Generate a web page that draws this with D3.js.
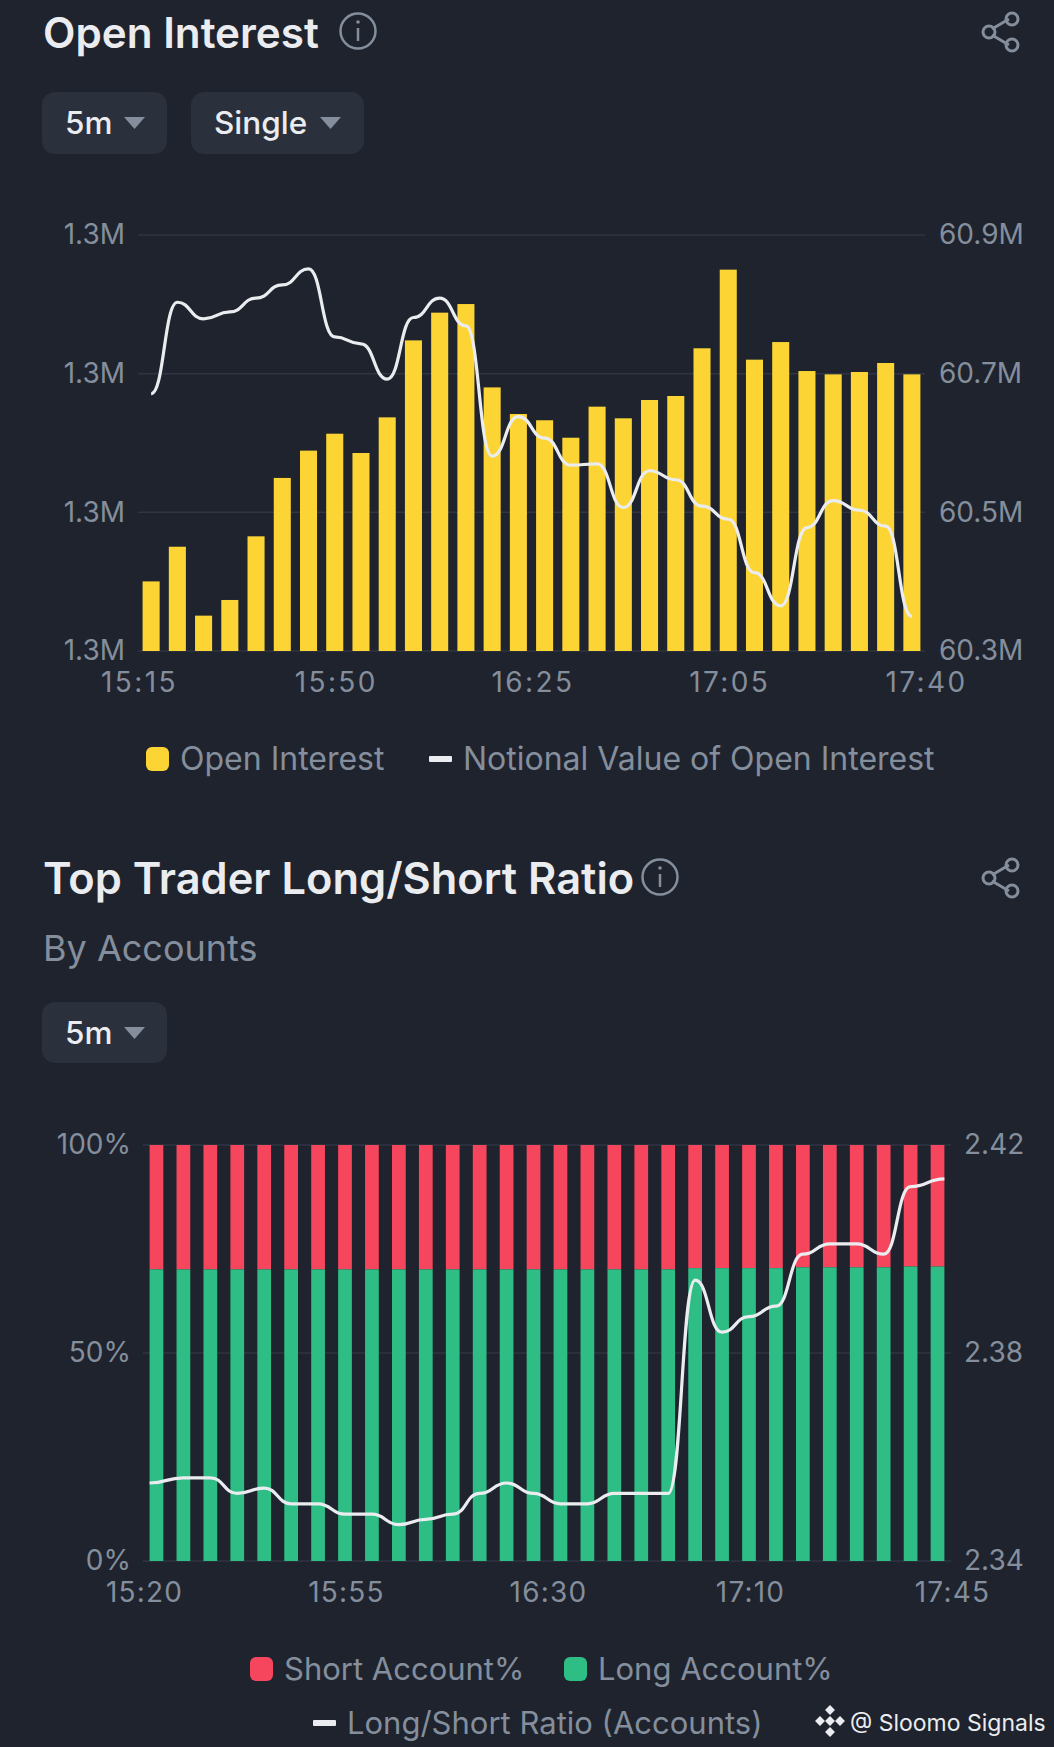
<!DOCTYPE html>
<html>
<head>
<meta charset="utf-8">
<script src="https://cdn.jsdelivr.net/npm/d3@7/dist/d3.min.js"></script>
<style>
  html, body { margin: 0; padding: 0; background: #1e232d; }
  svg { display: block; font-family: Inter, "Noto Sans", sans-serif; }
  .domain { display: none; }
</style>
</head>
<body>
<svg id="chart" width="1054" height="1747"></svg>
<script>
// Open Interest chart data
const oiTimes = ["15:15","15:20","15:25","15:30","15:35","15:40","15:45","15:50","15:55","16:00","16:05","16:10","16:15","16:20","16:25","16:30","16:35","16:40","16:45","16:50","16:55","17:00","17:05","17:10","17:15","17:20","17:25","17:30","17:35","17:40"];
const openInterest = [1.29002,1.29252,1.28755,1.28868,1.29327,1.29748,1.29945,1.30067,1.29928,1.30185,1.30740,1.30940,1.31002,1.30401,1.30209,1.30164,1.30038,1.30262,1.30178,1.30310,1.30339,1.30683,1.31250,1.30601,1.30728,1.30519,1.30495,1.30512,1.30577,1.30495];
const notional = [60.671,60.803,60.779,60.789,60.809,60.828,60.851,60.753,60.743,60.692,60.781,60.809,60.769,60.581,60.638,60.607,60.568,60.570,60.507,60.560,60.547,60.509,60.490,60.413,60.365,60.478,60.517,60.503,60.480,60.350];
const oiTicks = [1.285,1.295,1.305,1.315];
const notionalTicks = [60.3,60.5,60.7,60.9];
const oiTimeLabels = ["15:15","15:50","16:25","17:05","17:40"];

// Top Trader Long/Short chart data
const lsTimes = ["15:20","15:25","15:30","15:35","15:40","15:45","15:50","15:55","16:00","16:05","16:10","16:15","16:20","16:25","16:30","16:35","16:40","16:45","16:50","16:55","17:00","17:05","17:10","17:15","17:20","17:25","17:30","17:35","17:40","17:45"];
const longPct = [70.1,70.1,70.1,70.1,70.1,70.1,70.1,70.1,70.1,70.1,70.1,70.1,70.1,70.1,70.1,70.1,70.1,70.1,70.1,70.1,70.4,70.4,70.4,70.4,70.6,70.6,70.6,70.6,70.8,70.8];
const lsRatio = [2.355,2.356,2.356,2.353,2.354,2.351,2.351,2.349,2.349,2.347,2.348,2.349,2.353,2.355,2.353,2.351,2.351,2.353,2.353,2.353,2.394,2.384,2.387,2.389,2.399,2.401,2.401,2.399,2.412,2.4135];
const pctTicks = [0,50,100];
const ratioTicks = [2.34,2.38,2.42];
const lsTimeLabels = ["15:20","15:55","16:30","17:10","17:45"];

const gray = "#848e9c", light = "#eaecef", gridColor = "#2f3541", btnColor = "#2a303c";
const yellow = "#fcd535", green = "#2ebd85", red = "#f6465d";
const axisSize = 28;

const svg = d3.select("#chart");

function label(x, y, str, size, fill, weight) {
  return svg.append("text").attr("x", x).attr("y", y).attr("font-size", size)
    .attr("fill", fill).attr("font-weight", weight || 400).text(str);
}

function infoIcon(cx, cy) {
  svg.append("circle").attr("cx", cx).attr("cy", cy).attr("r", 17.5)
    .attr("fill", "none").attr("stroke", gray).attr("stroke-width", 2.5);
  svg.append("line").attr("x1", cx).attr("x2", cx).attr("y1", cy - 3).attr("y2", cy + 10)
    .attr("stroke", gray).attr("stroke-width", 2.5);
  svg.append("circle").attr("cx", cx).attr("cy", cy - 9).attr("r", 1.8).attr("fill", gray);
}

function shareIcon(cy) {
  const g = svg.append("g").attr("fill", "none").attr("stroke", gray).attr("stroke-width", 3);
  g.append("path").attr("d", `M992 ${cy - 3} L1009 ${cy - 13} M992 ${cy + 3} L1009 ${cy + 13}`);
  g.append("circle").attr("cx", 989).attr("cy", cy).attr("r", 6);
  g.append("circle").attr("cx", 1012).attr("cy", cy - 13).attr("r", 6);
  g.append("circle").attr("cx", 1012).attr("cy", cy + 13).attr("r", 6);
}

function dropdown(x0, x1, y0, y1, str, triX) {
  svg.append("rect").attr("x", x0).attr("y", y0).attr("width", x1 - x0).attr("height", y1 - y0)
    .attr("rx", 13).attr("fill", btnColor);
  label(x0 + 23, y0 + 42, str, 31.5, light, 500);
  svg.append("path").attr("d", d3.line()([[triX, y0 + 25], [triX + 21, y0 + 25], [triX + 10.5, y0 + 37]]) + "Z")
    .attr("fill", gray);
}

function swatch(x, y, color) {
  svg.append("rect").attr("x", x).attr("y", y).attr("width", 23).attr("height", 24).attr("rx", 6).attr("fill", color);
}

function lineSwatch(x, y) {
  svg.append("rect").attr("x", x).attr("y", y).attr("width", 23).attr("height", 6).attr("rx", 1).attr("fill", light);
}

// draws gridlines and the three axes of one panel
function drawAxes(xLabels, xRange, yL, yR, leftTicks, rightTicks, leftFmt, rightFmt, leftX, rightX, bottomY, padX, spacing) {
  svg.append("g").selectAll("line").data(leftTicks).join("line")
    .attr("x1", xRange[0]).attr("x2", xRange[1])
    .attr("y1", (d) => yL(d)).attr("y2", (d) => yL(d))
    .attr("stroke", gridColor).attr("stroke-width", 1.5);

  const xPoint = d3.scalePoint().domain(xLabels).range(xRange);
  const gx = svg.append("g").attr("transform", `translate(1,${bottomY})`)
    .call(d3.axisBottom(xPoint).tickSize(0).tickPadding(padX));
  const gl = svg.append("g").attr("transform", `translate(${leftX},0)`)
    .call(d3.axisLeft(yL).tickValues(leftTicks).tickFormat(leftFmt).tickSize(0).tickPadding(0));
  const gr = svg.append("g").attr("transform", `translate(${rightX},0)`)
    .call(d3.axisRight(yR).tickValues(rightTicks).tickFormat(rightFmt).tickSize(0).tickPadding(0));
  [gx, gl, gr].forEach((g) => {
    g.selectAll("text").attr("fill", gray).attr("font-size", axisSize).attr("font-family", "Inter");
  });
  gx.selectAll("text").attr("letter-spacing", spacing);
}

// ---------- Open Interest ----------
label(43, 48, "Open Interest", 42.2, light, 600);
infoIcon(358, 31);
shareIcon(32);
dropdown(42, 167, 92, 154, "5m", 124);
dropdown(191, 364, 92, 154, "Single", 320);

const xOi = d3.scaleBand().domain(oiTimes).range([138, 925]).paddingInner(0.35).paddingOuter(0.175);
const yOi = d3.scaleLinear().domain([1.285, 1.315]).range([651, 235]);
const yNotional = d3.scaleLinear().domain([60.3, 60.9]).range([651, 235]);

drawAxes(oiTimeLabels, [138, 925], yOi, yNotional, oiTicks, notionalTicks,
  (d) => d.toFixed(1) + "M", (d) => d.toFixed(1) + "M", 125, 939, 651, 21, 2.4);

svg.append("g").selectAll("rect").data(openInterest).join("rect")
  .attr("x", (d, i) => xOi(oiTimes[i]))
  .attr("width", xOi.bandwidth())
  .attr("y", (d) => yOi(d))
  .attr("height", (d) => yOi(1.285) - yOi(d))
  .attr("fill", yellow);

const notionalLine = d3.line()
  .x((d, i) => xOi(oiTimes[i]) + xOi.bandwidth() / 2)
  .y((d) => yNotional(d))
  .curve(d3.curveBumpX);
svg.append("path").datum(notional).attr("d", notionalLine)
  .attr("fill", "none").attr("stroke", light).attr("stroke-width", 3.2);

swatch(146, 747, yellow);
label(180, 770, "Open Interest", 32, gray);
lineSwatch(429, 756);
label(463, 770, "Notional Value of Open Interest", 32, gray);

// ---------- Top Trader Long/Short Ratio ----------
label(43, 894, "Top Trader Long/Short Ratio", 43.4, light, 600);
infoIcon(660, 877);
shareIcon(878);
label(43, 961, "By Accounts", 36, gray);
dropdown(42, 167, 1002, 1063, "5m", 124);

const xLs = d3.scaleBand().domain(lsTimes).range([143, 951]).paddingInner(0.49).paddingOuter(0.245);
const yPct = d3.scaleLinear().domain([0, 100]).range([1561, 1145]);
const yRatio = d3.scaleLinear().domain([2.34, 2.42]).range([1561, 1145]);

drawAxes(lsTimeLabels, [143, 951], yPct, yRatio, pctTicks, ratioTicks,
  (d) => d + "%", (d) => d.toFixed(2), 131, 964, 1561, 21, 1.2);

svg.append("g").selectAll("rect").data(longPct).join("rect")
  .attr("x", (d, i) => xLs(lsTimes[i]))
  .attr("width", xLs.bandwidth())
  .attr("y", yPct(100))
  .attr("height", (d) => yPct(d) - yPct(100))
  .attr("fill", red);
svg.append("g").selectAll("rect").data(longPct).join("rect")
  .attr("x", (d, i) => xLs(lsTimes[i]))
  .attr("width", xLs.bandwidth())
  .attr("y", (d) => yPct(d))
  .attr("height", (d) => yPct(0) - yPct(d))
  .attr("fill", green);

// the ratio line runs out to the outer edges of the first and last bars
const ratioX = (i) => {
  if (i === 0) return xLs(lsTimes[0]);
  if (i === lsTimes.length - 1) return xLs(lsTimes[i]) + xLs.bandwidth();
  return xLs(lsTimes[i]) + xLs.bandwidth() / 2;
};
const ratioLine = d3.line()
  .x((d, i) => ratioX(i))
  .y((d) => yRatio(d))
  .curve(d3.curveBumpX);
svg.append("path").datum(lsRatio).attr("d", ratioLine)
  .attr("fill", "none").attr("stroke", light).attr("stroke-width", 3.2);

swatch(250, 1657, red);
label(284, 1680, "Short Account%", 31, gray);
swatch(564, 1657, green);
label(598, 1680, "Long Account%", 31, gray);
lineSwatch(313, 1720);
label(347, 1734, "Long/Short Ratio (Accounts)", 31, gray);

// watermark, drawn from small rotated squares
const markCentres = [[830, 1710], [820, 1721], [830, 1721], [840, 1721], [830, 1732]];
svg.append("g").selectAll("rect").data(markCentres).join("rect")
  .attr("x", -3.5).attr("y", -3.5).attr("width", 7).attr("height", 7)
  .attr("transform", (d) => `translate(${d[0]},${d[1]}) rotate(45)`)
  .attr("fill", light);
label(850, 1731, "@ Sloomo Signals", 23, light);
</script>
</body>
</html>
